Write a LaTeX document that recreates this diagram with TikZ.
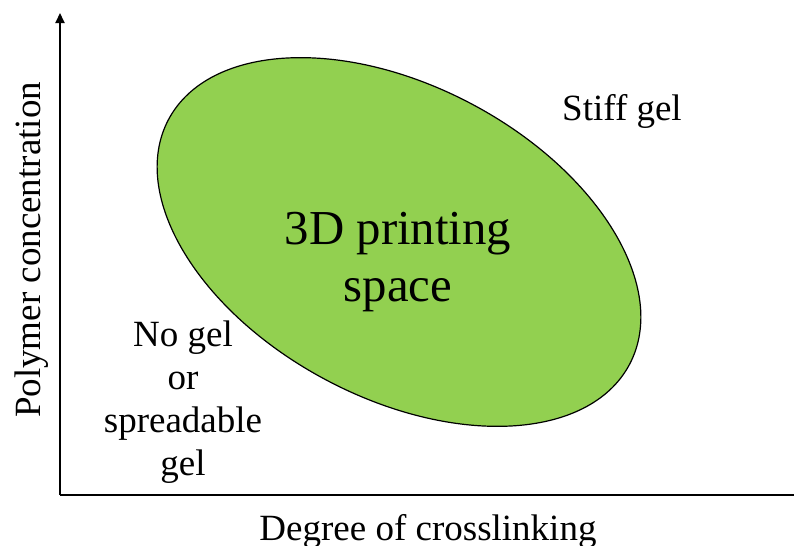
\documentclass[tikz,border=0pt]{standalone}
\usepackage{fontspec}
\setmainfont{Liberation Serif}
\usetikzlibrary{arrows.meta}

\begin{document}
\begin{tikzpicture}[x=0.5pt, y=-0.5pt, axis/.style = {line width=1pt}, lab/.style = {font=\fontsize{18.5}{21.5}\selectfont, align=center, inner sep=0pt}, big/.style = {font=\fontsize{24.4}{28.5}\selectfont, align=center, inner sep=0pt}]
        \useasboundingbox (0,0) rectangle (794,546);
        \coordinate (o) at (60,495);
        \coordinate (top) at (60,13);
        \coordinate (right) at (794,495);
        \draw[axis, -{Triangle[length=5pt, width=4.5pt]}] (o) -- (top);
        \draw[axis] (o) -- (right);
        \draw[fill={rgb,255:red,146;green,208;blue,80}, line width=0.6pt, rotate around={-28:(399,242)}] (399,242) ellipse [x radius=261, y radius=156];
        \node[big] (1) at (398,262) {3D printing\\space};
        \node[lab, anchor=base] (2) at (622,120) {Stiff gel};
        \node[lab] (3) at (183,402) {No gel\\or\\spreadable\\gel};
        \node[lab, anchor=base] (4) at (428,540) {Degree of crosslinking};
        \node[lab, anchor=base, rotate=90] (5) at (40,250) {Polymer concentration};
    \end{tikzpicture}
\end{document}
